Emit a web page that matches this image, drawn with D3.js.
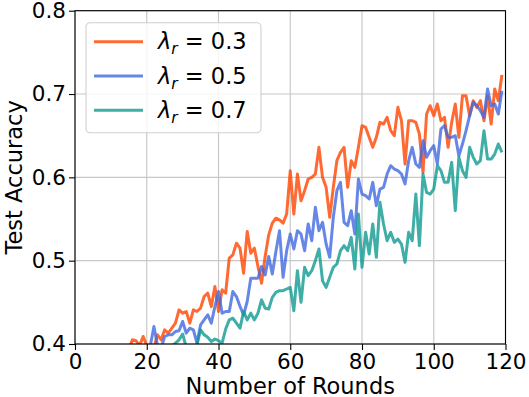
<!DOCTYPE html>
<html>
<head>
<meta charset="utf-8">
<script src="https://cdn.jsdelivr.net/npm/d3@7"></script>
<style>
  body { margin: 0; background: #fff; }
  svg { display: block; font-family: "DejaVu Sans", sans-serif; }
</style>
</head>
<body>
<div id="chart"></div>
<script>
// rounds 10..119 (earlier rounds sit below the 0.4 floor)
var rounds = d3.range(10, 120);

var acc03 = [0.360,0.368,0.372,0.380,0.386,0.394,0.405,0.404,0.398,0.409,
  0.398,0.392,0.396,0.411,0.405,0.417,0.413,0.419,0.425,0.441,
  0.437,0.439,0.425,0.441,0.439,0.443,0.457,0.461,0.445,0.469,
  0.439,0.465,0.461,0.503,0.507,0.521,0.515,0.485,0.535,0.509,
  0.515,0.493,0.473,0.505,0.531,0.545,0.551,0.549,0.545,0.556,
  0.608,0.556,0.604,0.572,0.584,0.598,0.600,0.604,0.636,0.600,
  0.588,0.552,0.588,0.620,0.630,0.636,0.588,0.620,0.612,0.636,
  0.662,0.660,0.648,0.636,0.648,0.666,0.664,0.672,0.656,0.650,
  0.684,0.668,0.616,0.668,0.668,0.666,0.652,0.606,0.676,0.686,
  0.674,0.688,0.668,0.672,0.636,0.666,0.688,0.648,0.698,0.698,
  0.674,0.692,0.684,0.692,0.668,0.698,0.664,0.706,0.692,0.723];

var acc05 = [0.340,0.348,0.352,0.360,0.366,0.372,0.378,0.384,0.388,0.392,
  0.390,0.398,0.421,0.398,0.395,0.409,0.411,0.411,0.415,0.416,
  0.427,0.413,0.419,0.417,0.401,0.423,0.429,0.435,0.425,0.445,
  0.463,0.437,0.439,0.439,0.463,0.457,0.445,0.435,0.451,0.479,
  0.479,0.479,0.493,0.483,0.505,0.484,0.511,0.536,0.480,0.512,
  0.532,0.514,0.536,0.532,0.512,0.544,0.524,0.564,0.536,0.546,
  0.520,0.504,0.552,0.584,0.594,0.546,0.542,0.560,0.532,0.598,
  0.580,0.578,0.574,0.594,0.566,0.586,0.588,0.604,0.614,0.610,
  0.608,0.604,0.592,0.620,0.636,0.616,0.612,0.644,0.624,0.632,
  0.638,0.616,0.658,0.662,0.648,0.648,0.650,0.626,0.640,0.656,
  0.674,0.690,0.686,0.680,0.672,0.706,0.686,0.688,0.676,0.704];

var acc07 = [0.330,0.335,0.340,0.345,0.350,0.355,0.360,0.365,0.370,0.372,
  0.378,0.382,0.386,0.388,0.390,0.392,0.395,0.398,0.401,0.405,
  0.412,0.396,0.390,0.394,0.399,0.417,0.411,0.408,0.403,0.406,
  0.404,0.401,0.418,0.429,0.431,0.425,0.419,0.439,0.429,0.437,
  0.429,0.437,0.453,0.443,0.442,0.456,0.462,0.464,0.464,0.466,
  0.468,0.440,0.488,0.450,0.492,0.482,0.488,0.500,0.514,0.476,
  0.468,0.480,0.492,0.496,0.512,0.518,0.512,0.528,0.490,0.556,
  0.492,0.534,0.508,0.544,0.504,0.570,0.544,0.524,0.534,0.522,
  0.526,0.520,0.498,0.534,0.524,0.580,0.518,0.604,0.582,0.580,
  0.586,0.614,0.608,0.594,0.594,0.618,0.560,0.624,0.608,0.600,
  0.636,0.624,0.616,0.620,0.656,0.622,0.622,0.628,0.640,0.630];

var seriesNames = ["0.3", "0.5", "0.7"];
var seriesColors = ["#ff4500", "#4169e1", "#0e9a91"];
var xTicks = [0, 20, 40, 60, 80, 100, 120];
var yTicks = [0.4, 0.5, 0.6, 0.7, 0.8];

var series = [acc03, acc05, acc07].map(function(vals, i) {
  return { name: seriesNames[i], color: seriesColors[i],
    points: vals.map(function(v, j) { return { r: rounds[j], v: v }; }) };
});

var W = 529, H = 397;
var margin = { top: 10.7, right: 23.5, bottom: 53, left: 75 };
var width = W - margin.left - margin.right,
    height = H - margin.top - margin.bottom;

var svg = d3.select("#chart").append("svg").attr("width", W).attr("height", H);
var g = svg.append("g").attr("transform", "translate(" + margin.left + "," + margin.top + ")");

var x = d3.scaleLinear().domain([0, 120]).range([0, width]);
var y = d3.scaleLinear().domain([0.4, 0.8]).range([height, 0]);

svg.append("defs").append("clipPath").attr("id", "plot")
  .append("rect").attr("width", width).attr("height", height);

// grid
g.append("g").selectAll("line").data(xTicks).enter().append("line")
  .attr("x1", function(d) { return x(d); }).attr("x2", function(d) { return x(d); })
  .attr("y1", 0).attr("y2", height)
  .attr("stroke", "#c8c8c8").attr("stroke-width", 1.2);
g.append("g").selectAll("line").data(yTicks).enter().append("line")
  .attr("y1", function(d) { return y(d); }).attr("y2", function(d) { return y(d); })
  .attr("x1", 0).attr("x2", width)
  .attr("stroke", "#c8c8c8").attr("stroke-width", 1.2);

var line = d3.line()
  .x(function(d) { return x(d.r); })
  .y(function(d) { return y(d.v); });

g.append("g").attr("clip-path", "url(#plot)")
  .selectAll("path").data(series).enter().append("path")
  .attr("d", function(d) { return line(d.points); })
  .attr("fill", "none")
  .attr("stroke", function(d) { return d.color; })
  .attr("stroke-opacity", 0.8)
  .attr("stroke-width", 3)
  .attr("stroke-linejoin", "round");

// axes
var xAxis = g.append("g").attr("transform", "translate(0," + height + ")")
  .call(d3.axisBottom(x).tickValues(xTicks).tickSizeOuter(0).tickSize(6).tickPadding(4));
var yAxis = g.append("g")
  .call(d3.axisLeft(y).tickValues(yTicks).tickFormat(d3.format(".1f")).tickSizeOuter(0).tickSize(6).tickPadding(3));
[xAxis, yAxis].forEach(function(a) {
  a.select(".domain").remove();
  a.selectAll("line").attr("stroke", "#000").attr("stroke-width", 1.1);
  a.selectAll("text").attr("font-size", 21.5).attr("fill", "#000")
    .attr("font-family", "DejaVu Sans");
});
xAxis.selectAll("text").attr("dy", "0.71em");

g.append("rect").attr("width", width).attr("height", height)
  .attr("fill", "none").attr("stroke", "#000").attr("stroke-width", 1.1);

// axis titles
svg.append("text").attr("x", margin.left + width / 2).attr("y", 394)
  .attr("text-anchor", "middle").attr("font-size", 22.5).text("Number of Rounds");
svg.append("text")
  .attr("transform", "translate(22," + (margin.top + height / 2) + ") rotate(-90)")
  .attr("text-anchor", "middle").attr("font-size", 22.5).text("Test Accuracy");

// legend
var lg = svg.append("g").attr("transform", "translate(86,22.7)");
lg.append("rect").attr("width", 175).attr("height", 110).attr("rx", 4)
  .attr("fill", "#fff").attr("fill-opacity", 0.8)
  .attr("stroke", "#d0d0d0").attr("stroke-width", 1.1);
var items = lg.selectAll("g.item").data(series).enter().append("g")
  .attr("class", "item")
  .attr("transform", function(d, i) { return "translate(0," + (19 + i * 34.3) + ")"; });
items.append("line").attr("x1", 8).attr("x2", 57)
  .attr("stroke", function(d) { return d.color; })
  .attr("stroke-opacity", 0.8).attr("stroke-width", 3);
var lt = items.append("text").attr("x", 72).attr("y", 7.6).attr("font-size", 22.5);
lt.append("tspan").attr("font-style", "italic").text("λ");
lt.append("tspan").attr("font-style", "italic").attr("font-size", 15.5).attr("dy", 5).text("r");
lt.append("tspan").attr("dy", -5).text(function(d) { return " = " + d.name; });
</script>
</body>
</html>
